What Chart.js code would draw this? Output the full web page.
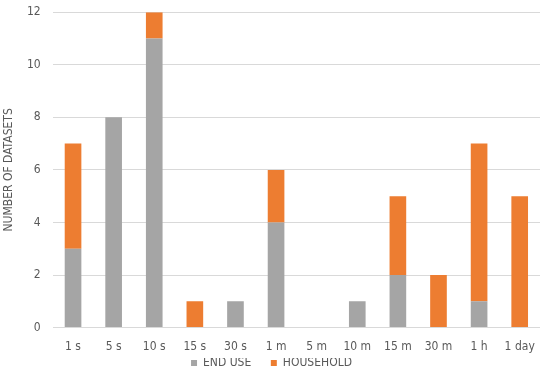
<!DOCTYPE html>
<html>
<head>
<meta charset="utf-8">
<script src="https://cdn.jsdelivr.net/npm/chart.js@4"></script>
<style>
  html, body { margin: 0; padding: 0; background: #fff; overflow: hidden; }
  #wrap { width: 550px; height: 383px; margin-top: -7px; }
</style>
</head>
<body>
<div id="wrap"><canvas id="datasetChart"></canvas></div>
<script>
// categories (time resolution)
const resolutions = ['1 s', '5 s', '10 s', '15 s', '30 s', '1 m', '5 m', '10 m', '15 m', '30 m', '1 h', '1 day'];
// series values
const endUse = [3, 8, 11, 0, 1, 4, 0, 1, 2, 0, 1, 0];
const household = [4, 0, 1, 1, 0, 2, 0, 0, 3, 2, 6, 5];
// y ticks
const yMin = 0, yMax = 12, yStep = 2;

const textColor = '#595959';
const fontFamily = "'Liberation Sans Narrow', 'DejaVu Sans Condensed', Roboto, sans-serif";

var ctx = document.getElementById('datasetChart').getContext('2d');

var datasetChart = new Chart(ctx, {
  type: 'bar',
  data: {
    labels: resolutions,
    datasets: [{
      label: 'END USE',
      data: endUse,
      backgroundColor: '#A5A5A5',
      barPercentage: 0.41,
      categoryPercentage: 1
    }, {
      label: 'HOUSEHOLD',
      data: household,
      backgroundColor: '#ED7D31',
      barPercentage: 0.41,
      categoryPercentage: 1
    }]
  },
  options: {
    responsive: true,
    maintainAspectRatio: false,
    animation: false,
    layout: { padding: { top: -6, right: 10, left: 3, bottom: -3 } },
    scales: {
      x: {
        stacked: true,
        grid: { display: false },
        border: { display: false },
        ticks: { color: textColor, font: { family: fontFamily, size: 12 }, padding: 4 }
      },
      y: {
        stacked: true,
        min: yMin,
        max: yMax,
        ticks: { stepSize: yStep, color: textColor, font: { family: fontFamily, size: 12 }, padding: 12 },
        grid: { color: '#D9D9D9', drawTicks: false },
        border: { display: false },
        title: {
          display: true,
          text: 'NUMBER OF DATASETS',
          color: textColor,
          font: { family: fontFamily, size: 12, lineHeight: 1 },
          padding: 0
        }
      }
    },
    plugins: {
      legend: {
        position: 'bottom',
        labels: {
          color: textColor,
          font: { family: fontFamily, size: 12 },
          boxWidth: 6,
          boxHeight: 6,
          padding: -1,
          // small row padding, so keep items apart with trailing spaces
          generateLabels: function(chart) {
            const items = Chart.defaults.plugins.legend.labels.generateLabels(chart);
            items.forEach(function(item, i) {
              if (i < items.length - 1) item.text += '      ';
            });
            return items;
          }
        }
      },
      tooltip: { enabled: false }
    }
  }
});
</script>
</body>
</html>
